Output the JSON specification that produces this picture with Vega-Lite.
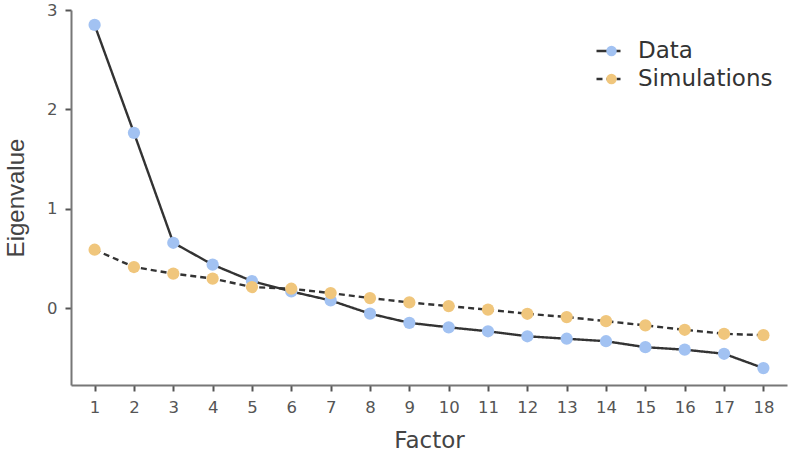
{
  "$schema": "https://vega.github.io/schema/vega-lite/v6.json",
  "width": 716,
  "height": 375,
  "autosize": {"type": "none"},
  "padding": {"left": 71, "top": 10, "right": 7, "bottom": 77},
  "background": "white",
  "config": {
    "view": {"stroke": null},
    "font": "DejaVu Sans",
    "axis": {
      "domainColor": "#777777",
      "domainWidth": 2,
      "tickColor": "#555555",
      "tickWidth": 2,
      "tickSize": 6,
      "grid": false,
      "labelFont": "DejaVu Sans",
      "labelFontSize": 16.5,
      "labelColor": "#555555",
      "titleFont": "DejaVu Sans",
      "titleFontSize": 23,
      "titleFontWeight": "normal",
      "titleColor": "#444444"
    }
  },
  "data": {
    "values": [
      {"factor": 1, "series": "Data", "value": 2.85},
      {"factor": 2, "series": "Data", "value": 1.765},
      {"factor": 3, "series": "Data", "value": 0.66},
      {"factor": 4, "series": "Data", "value": 0.44},
      {"factor": 5, "series": "Data", "value": 0.275},
      {"factor": 6, "series": "Data", "value": 0.17},
      {"factor": 7, "series": "Data", "value": 0.08},
      {"factor": 8, "series": "Data", "value": -0.053},
      {"factor": 9, "series": "Data", "value": -0.145},
      {"factor": 10, "series": "Data", "value": -0.19},
      {"factor": 11, "series": "Data", "value": -0.23},
      {"factor": 12, "series": "Data", "value": -0.28},
      {"factor": 13, "series": "Data", "value": -0.305},
      {"factor": 14, "series": "Data", "value": -0.33},
      {"factor": 15, "series": "Data", "value": -0.39},
      {"factor": 16, "series": "Data", "value": -0.415},
      {"factor": 17, "series": "Data", "value": -0.456},
      {"factor": 18, "series": "Data", "value": -0.6},
      {"factor": 1, "series": "Simulations", "value": 0.59},
      {"factor": 2, "series": "Simulations", "value": 0.416},
      {"factor": 3, "series": "Simulations", "value": 0.35},
      {"factor": 4, "series": "Simulations", "value": 0.3},
      {"factor": 5, "series": "Simulations", "value": 0.215},
      {"factor": 6, "series": "Simulations", "value": 0.198},
      {"factor": 7, "series": "Simulations", "value": 0.154},
      {"factor": 8, "series": "Simulations", "value": 0.104},
      {"factor": 9, "series": "Simulations", "value": 0.06},
      {"factor": 10, "series": "Simulations", "value": 0.023},
      {"factor": 11, "series": "Simulations", "value": -0.013},
      {"factor": 12, "series": "Simulations", "value": -0.054},
      {"factor": 13, "series": "Simulations", "value": -0.087},
      {"factor": 14, "series": "Simulations", "value": -0.128},
      {"factor": 15, "series": "Simulations", "value": -0.171},
      {"factor": 16, "series": "Simulations", "value": -0.215},
      {"factor": 17, "series": "Simulations", "value": -0.255},
      {"factor": 18, "series": "Simulations", "value": -0.269}
    ]
  },
  "encoding": {
    "x": {
      "field": "factor",
      "type": "quantitative",
      "title": "Factor",
      "scale": {"domain": [0.4, 18.6], "nice": false, "zero": false},
      "axis": {"values": [1,2,3,4,5,6,7,8,9,10,11,12,13,14,15,16,17,18], "format": "d", "labelPadding": 8, "titlePadding": 14}
    },
    "y": {
      "field": "value",
      "type": "quantitative",
      "title": "Eigenvalue",
      "scale": {"domain": [-0.77, 3], "nice": false, "zero": false},
      "axis": {"values": [0, 1, 2, 3], "format": "d", "labelPadding": 8, "titlePadding": 18, "titleFont": "Liberation Sans", "titleFontSize": 24}
    }
  },
  "layer": [
    {
      "mark": {"type": "line", "color": "#333333", "strokeWidth": 2.4},
      "encoding": {
        "strokeDash": {
          "field": "series",
          "type": "nominal",
          "scale": {"domain": ["Data", "Simulations"], "range": [[1, 0], [6, 4]]},
          "legend": {
            "orient": "none",
            "legendX": 524,
            "legendY": 29,
            "title": null,
            "symbolType": "stroke",
            "symbolSize": 576,
            "symbolStrokeColor": "#333333",
            "symbolStrokeWidth": 2.5,
            "labelFontSize": 23,
            "labelColor": "#333333",
            "labelFont": "DejaVu Sans",
            "labelOffset": 16,
            "clipHeight": 24,
            "rowPadding": 4
          }
        }
      }
    },
    {
      "mark": {"type": "point", "filled": true, "opacity": 1, "size": 150},
      "encoding": {
        "color": {
          "field": "series",
          "type": "nominal",
          "scale": {"domain": ["Data", "Simulations"], "range": ["#a2c2f2", "#f0c67c"]},
          "legend": {
            "orient": "none",
            "legendX": 529,
            "legendY": 29,
            "title": null,
            "symbolType": "circle",
            "symbolSize": 110,
            "symbolOpacity": 1,
            "labelFontSize": 23,
            "labelExpr": "''",
            "clipHeight": 24,
            "rowPadding": 4
          }
        }
      }
    }
  ],
  "resolve": {"legend": {"color": "independent", "strokeDash": "independent"}}
}
